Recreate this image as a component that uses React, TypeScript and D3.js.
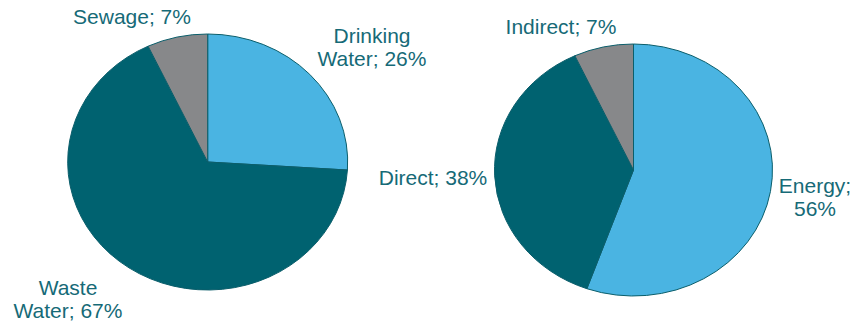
import React from "react";
import * as d3 from "d3";

const leftCategories = ["Drinking Water", "Waste Water", "Sewage"];
const leftValues = [26, 67, 7];
const rightCategories = ["Energy", "Direct", "Indirect"];
const rightValues = [56, 38, 7];

const colors = ["#4AB4E2", "#006270", "#87888A"];
const textColor = "#166A77";
const strokeColor = "#0B5E6B";

type LabelLayout = { lines: string[]; x: number; y: number; anchor: string };

function Pie({
  categories,
  values,
  cx,
  cy,
  rx,
  ry,
  labels,
}: {
  categories: string[];
  values: number[];
  cx: number;
  cy: number;
  rx: number;
  ry: number;
  labels: LabelLayout[];
}) {
  const data = categories.map((c, i) => ({ c, v: values[i] }));
  const pie = d3
    .pie<{ c: string; v: number }>()
    .value((d) => d.v)
    .sort(null)
    .startAngle(0)
    .endAngle(2 * Math.PI);
  const arcs = pie(data);
  const arc = d3.arc<d3.PieArcDatum<{ c: string; v: number }>>().innerRadius(0).outerRadius(rx);
  return (
    <g>
      <g transform={`translate(${cx},${cy}) scale(1,${ry / rx})`}>
        {arcs.map((a, i) => (
          <path
            key={i}
            d={arc(a) || ""}
            fill={colors[i]}
            stroke={strokeColor}
            strokeWidth={1}
            vectorEffect="non-scaling-stroke"
          />
        ))}
      </g>
      {labels.map((l, i) => (
        <text
          key={i}
          x={l.x}
          y={l.y}
          textAnchor={l.anchor}
          fill={textColor}
          fontFamily="'Liberation Sans', Arial, sans-serif"
          fontSize={21}
        >
          {l.lines.map((t, j) => (
            <tspan key={j} x={l.x} dy={j === 0 ? 0 : 23}>
              {t}
            </tspan>
          ))}
        </text>
      ))}
    </g>
  );
}

function labelLines(cat: string, v: number, split: boolean): string[] {
  const full = `${cat}; ${v}%`;
  if (!split) return [full];
  const words = cat.split(" ");
  if (words.length > 1) return [words[0], `${words.slice(1).join(" ")}; ${v}%`];
  return [`${cat};`, `${v}%`];
}

export default function App() {
  const leftLabels: LabelLayout[] = [
    { lines: labelLines(leftCategories[0], leftValues[0], true), x: 372, y: 43, anchor: "middle" },
    { lines: labelLines(leftCategories[1], leftValues[1], true), x: 68, y: 295, anchor: "middle" },
    { lines: labelLines(leftCategories[2], leftValues[2], false), x: 132, y: 24, anchor: "middle" },
  ];
  const rightLabels: LabelLayout[] = [
    { lines: labelLines(rightCategories[0], rightValues[0], true), x: 815, y: 193, anchor: "middle" },
    { lines: labelLines(rightCategories[1], rightValues[1], false), x: 433, y: 185, anchor: "middle" },
    { lines: labelLines(rightCategories[2], rightValues[2], false), x: 561, y: 34, anchor: "middle" },
  ];
  return (
    <div style={{ position: "fixed", left: 0, top: 0, width: 857, height: 327, background: "#fff" }}>
      <svg width={857} height={327} style={{ display: "block" }}>
        <Pie
          categories={leftCategories}
          values={leftValues}
          cx={207.7}
          cy={162}
          rx={140}
          ry={128}
          labels={leftLabels}
        />
        <Pie
          categories={rightCategories}
          values={rightValues}
          cx={633.5}
          cy={170}
          rx={139}
          ry={126}
          labels={rightLabels}
        />
      </svg>
    </div>
  );
}
